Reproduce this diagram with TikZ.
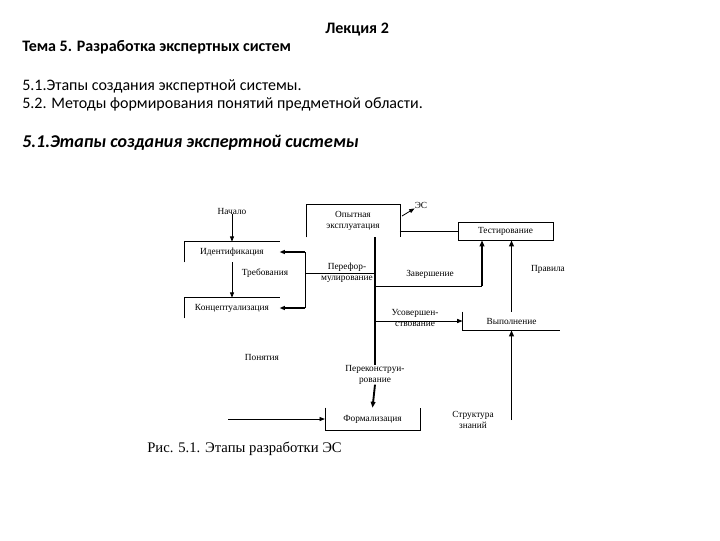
\documentclass[tikz,border=0pt]{standalone}
\usepackage{fontspec}
\setmainfont{Liberation Serif}
\newfontfamily\slidefont{Carlito}
\usepackage{tikz}
\usetikzlibrary{arrows.meta, positioning, calc}
\tikzset{
  % Slide text (Calibri-like)
  headtext/.style={anchor=west, inner sep=0pt, font=\slidefont\fontsize{12}{14}\selectfont},
  headbold/.style={headtext, font=\slidefont\bfseries\fontsize{12}{14}\selectfont},
  % Diagram labels
  lbl/.style={inner sep=0pt, align=center, font=\fontsize{7}{8}\selectfont},
  % Stage box (borders drawn by hand, the scan shows them partly)
  stage/.style={lbl, minimum width=71pt, minimum height=15pt},
  % Lines and arrows
  ln/.style={line width=0.5pt},
  arr/.style={-{Triangle[length=4pt,width=3pt]}, line width=0.6pt},
  tarr/.style={-{Triangle[length=4.5pt,width=3.5pt]}, line width=1.4pt},
  tln/.style={line width=1.4pt},
}

\begin{document}
\begin{tikzpicture}[x=0.75pt, y=-0.75pt]
  \useasboundingbox (0,0) rectangle (720,540);

  %% ---- SLIDE TEXT ----
  \node[headbold] (lecture) at (325,30) {Лекция 2};
  \node[headbold] (topic) at (22,47) {Тема 5. Разработка экспертных систем};
  \node[headtext] (item1) at (22,86) {5.1.Этапы создания экспертной системы.};
  \node[headtext] (item2) at (22,104) {5.2. Методы формирования понятий предметной области.};
  \node[headtext, font=\slidefont\bfseries\itshape\fontsize{13.5}{16}\selectfont]
    (section) at (22,143) {5.1.Этапы создания экспертной системы};

  %% ---- STAGES ----
  \node[stage] (ident) at (232,252) {Идентификация};
  \node[stage] (concept) at (232,308) {Концептуализация};
  \node[stage, minimum width=70pt, minimum height=24pt] (opyt) at (353,221)
    {Опытная\\эксплуатация};
  \node[stage, minimum height=13.5pt, draw, line width=0.5pt] (test) at (505.5,231)
    {Тестирование};
  \node[stage, minimum width=73pt, minimum height=13.5pt] (vyp) at (511.5,321)
    {Выполнение};
  \node[stage, minimum height=16.5pt] (formal) at (372.5,419) {Формализация};

  %% ---- LABELS ----
  \node[lbl] (start) at (232,211) {Начало};
  \node[lbl] (req) at (265,273) {Требования};
  \node[lbl] (concepts) at (262,357) {Понятия};
  \node[lbl] (es) at (421,205) {ЭС};
  \node[lbl] (rules) at (548,269) {Правила};
  \node[lbl] (reform) at (347,273) {Перефор-\\мулирование};
  \node[lbl] (finish) at (430,274) {Завершение};
  \node[lbl] (refine) at (415,318) {Усовершен-\\ствование};
  \node[lbl] (redesign) at (375,375) {Переконструи-\\рование};
  \node[lbl] (struct) at (473,420) {Структура\\знаний};

  \coordinate (fb top) at (305,252);
  \coordinate (fb bot) at (305,308);
  \coordinate (fin turn) at (482,286);
  \coordinate (conc in) at (228,419);
  \coordinate (es from) at (402,216);

  %% ---- BOX BORDERS ----
  \draw[ln] (ident.south west) -- (ident.north west) -- (ident.north east);
  \draw[ln] (concept.south west) -- (concept.north west) -- (concept.north east);
  \draw[ln] (opyt.south west) -- (opyt.north west) -- (opyt.north east) -- (opyt.south east);
  \draw[ln] (vyp.north west) -- (vyp.south west) -- (vyp.south east);
  \draw[ln] (formal.north west) -- (formal.south west) -- (formal.south east) -- (formal.north east);

  %% ---- FORWARD FLOW ----
  \draw[arr] (start.south) -- (ident.north);
  \draw[arr] (ident.south) -- (concept.north);
  \draw[arr] (conc in) -- (formal.west);
  \draw[tarr] (vyp.south |- struct) -- (vyp.south);
  \draw[tarr] (vyp.north) -- (vyp.north |- test.south);
  \draw[ln] (test.west -| opyt.east) -- (test.west);
  \draw[arr] (es from) -- (es.south west);

  %% ---- FEEDBACK ----
  \draw[tln] (opyt.south -| redesign) -- (redesign.north);
  \draw[ln] (reform -| fb top) -- (reform -| redesign);
  \draw[ln] (fb top) -- (fb bot);
  \draw[arr, line width=1pt] (fb top) -- (ident.east);
  \draw[arr, line width=1pt] (fb bot) -- (concept.east);
  \draw[ln] (fin turn -| redesign) -- (fin turn);
  \draw[tarr] (fin turn) -- (fin turn |- test.south);
  \draw[arr] (vyp.west -| redesign) -- (vyp.west);
  \draw[tarr] (redesign.south) -- (formal.north);

  %% ---- CAPTION ----
  \node[anchor=west, inner sep=0pt, font=\fontsize{11}{13}\selectfont] (caption) at (147,449)
    {Рис. 5.1. Этапы разработки ЭС};

\end{tikzpicture}
\end{document}
